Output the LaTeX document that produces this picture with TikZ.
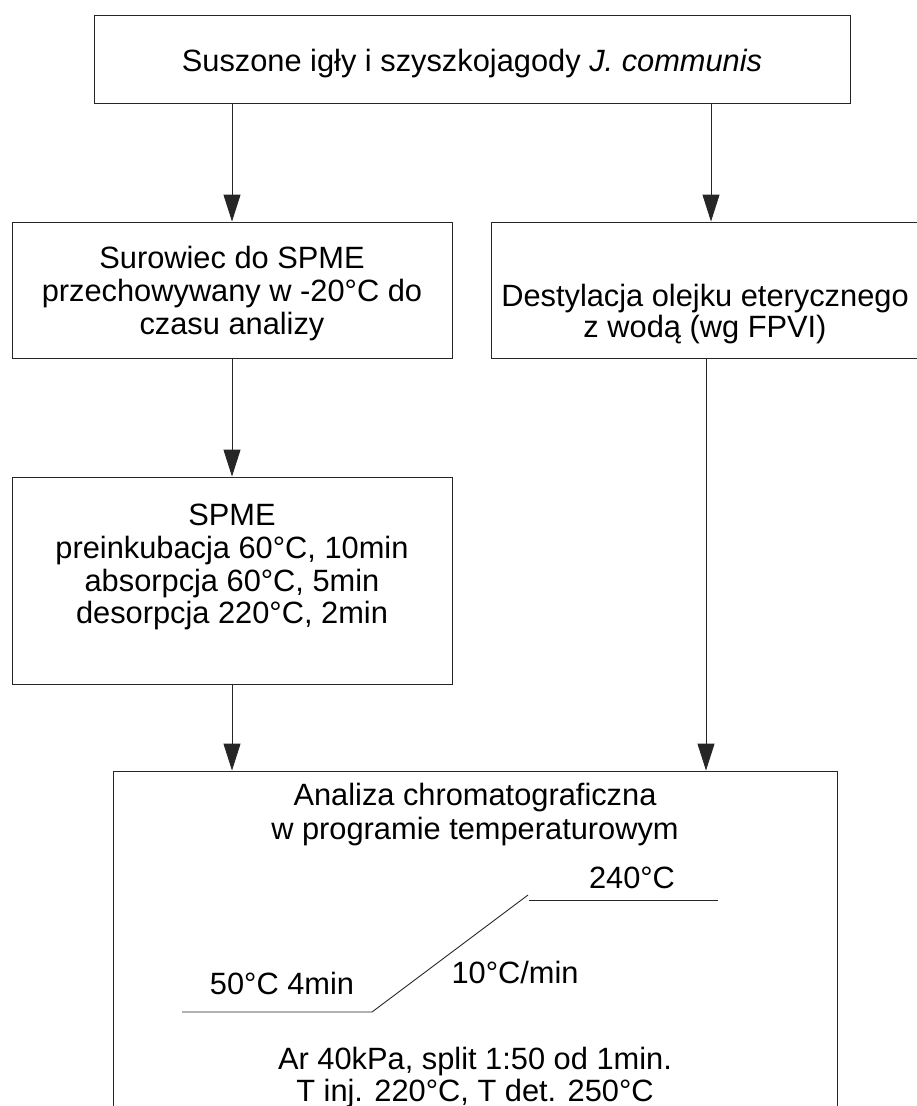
\documentclass[tikz,border=0pt]{standalone}
\usepackage{fontspec}
\setmainfont{Liberation Sans}
\usetikzlibrary{arrows.meta}
\begin{document}
\begin{tikzpicture}[x=1pt,y=-1pt,
  boxstyle/.style={draw=black!85,line width=0.9pt,rectangle,inner sep=0pt},
  txt/.style={inner sep=0pt,anchor=base,font=\fontsize{30.8}{34}\selectfont},
  arr/.style={draw=black!85,line width=0.9pt,-{Triangle[length=27pt,width=17pt]}},
  prof/.style={draw=black!85,line width=0.9pt}]
\useasboundingbox (0,0) rectangle (917,1106);
% boxes
\node[boxstyle,minimum width=756pt,minimum height=88pt] (top) at (472,59) {};
\node[boxstyle,minimum width=440pt,minimum height=136pt] (boxL) at (232,290) {};
\node[boxstyle,minimum width=440pt,minimum height=136pt] (boxR) at (711,290) {};
\node[boxstyle,minimum width=440pt,minimum height=207pt] (box3) at (232,580.5) {};
\node[boxstyle,minimum width=724pt,minimum height=370pt] (bot) at (475,956) {};
% texts
\node[txt] (t0) at (472,71) {Suszone igły i szyszkojagody \textit{J. communis}};
\node[txt] (l1) at (232,268) {Surowiec do SPME};
\node[txt] (l2) at (232,301) {przechowywany w -20°C do};
\node[txt] (l3) at (232,334) {czasu analizy};
\node[txt] (r1) at (705,306) {Destylacja olejku eterycznego};
\node[txt] (r2) at (705,337) {z wodą (wg FPVI)};
\node[txt] (s1) at (232,525) {SPME};
\node[txt] (s2) at (232,558) {preinkubacja 60°C, 10min};
\node[txt] (s3) at (232,591) {absorpcja 60°C, 5min};
\node[txt] (s4) at (232,623) {desorpcja 220°C, 2min};
\node[txt] (b1) at (475,805) {Analiza chromatograficzna};
\node[txt] (b2) at (475,839) {w programie temperaturowym};
\node[txt] (p1) at (632,888) {240°C};
\node[txt] (p2) at (515,983) {10°C/min};
\node[txt] (p3) at (282,994) {50°C 4min};
\node[txt] (b3) at (475,1069) {Ar 40kPa, split 1:50 od 1min.};
\node[txt] (b4) at (475,1101) {T inj. 220°C, T det. 250°C};
% temperature profile
\coordinate (q1) at (182,1012);
\coordinate (q2) at (372,1012);
\coordinate (q3) at (528,895);
\coordinate (q4) at (529,900);
\coordinate (q5) at (718,900);
\draw[prof] (q1) -- (q2) -- (q3);
\draw[prof] (q4) -- (q5);
% connector columns
\coordinate (cL) at (232,0);
\coordinate (cR) at (711,0);
\coordinate (cR2) at (706,0);
\draw[arr] (top.south -| cL) -- (boxL.north -| cL);
\draw[arr] (top.south -| cR) -- (boxR.north -| cR);
\draw[arr] (boxL.south -| cL) -- (box3.north -| cL);
\draw[arr] (box3.south -| cL) -- (bot.north -| cL);
\draw[arr] (boxR.south -| cR2) -- (bot.north -| cR2);
\end{tikzpicture}
\end{document}
